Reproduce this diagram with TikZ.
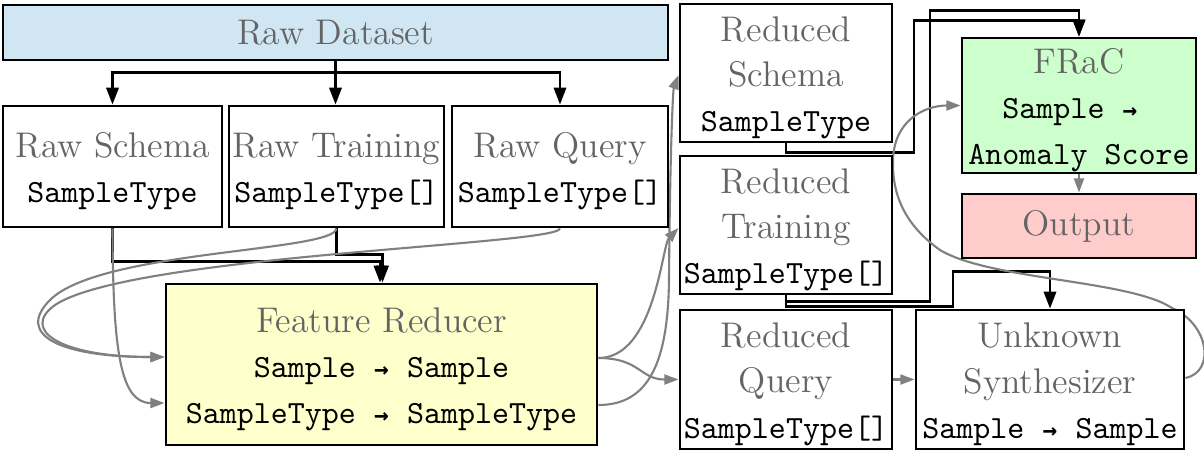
\documentclass[tikz,border=0pt]{standalone}
\usepackage{fontspec}
\usepackage{tikz}
\usetikzlibrary{arrows.meta,calc,backgrounds}

\newfontfamily\arrfont{DejaVu Sans Mono}

\definecolor{ttlgray}{HTML}{646464}
\definecolor{lnkgray}{HTML}{808080}
\definecolor{dsblue}{HTML}{D0E6F3}
\definecolor{redyellow}{HTML}{FFFFCC}
\definecolor{fracgreen}{HTML}{CCFFCC}
\definecolor{outpink}{HTML}{FFCCCC}

\newcommand{\ttl}[1]{{\rmfamily\color{ttlgray}\fontsize{11}{14}\selectfont #1}}
\newcommand{\tup}{\rule{0pt}{10.6pt}}
\newcommand{\tto}{\makebox[5.25pt]{\arrfont\bfseries\fontsize{7.5}{8}\selectfont →}}

\begin{document}
\begin{tikzpicture}[x=0.3087pt, y=-0.3087pt,
    box/.style={draw, line width=0.9pt, fill=white, align=center, inner sep=0pt,
        font=\fontsize{10}{14}\selectfont\ttfamily},
    wh/.style 2 args={minimum width=#1*0.3087pt, minimum height=#2*0.3087pt},
    tree/.style={line width=0.7pt, -{Triangle[length=5.2pt,width=3.8pt]}},
    flow/.style={line width=0.65pt, lnkgray, -{Triangle[length=4.4pt,width=3.1pt]}}]
    \useasboundingbox (0,0) rectangle (1204,454);

    \node[box, fill=dsblue, wh={665}{55}] (raw) at (335.5,32.5) {\ttl{Raw Dataset}};
    \node[box, wh={219}{121}] (rs) at (112.5,166.5) {\tup\ttl{Raw Schema}\\SampleType};
    \node[box, wh={215}{121}] (rt) at (336.5,166.5) {\tup\ttl{Raw Training}\\SampleType[]};
    \node[box, wh={216}{121}] (rq) at (560,166.5) {\tup\ttl{Raw Query}\\SampleType[]};
    \node[box, fill=redyellow, wh={431}{161}] (fr) at (381.5,364.5)
        {\tup\ttl{Feature Reducer}\\Sample \tto{} Sample\\SampleType \tto{} SampleType};

    \node[box, wh={212}{138}] (dS) at (786,73) {\tup\ttl{Reduced}\\\ttl{Schema}\\SampleType};
    \node[box, wh={212}{138}] (dT) at (786,225) {\tup\ttl{Reduced}\\\ttl{Training}\\SampleType[]};
    \node[box, wh={212}{139}] (dQ) at (786,379.5) {\tup\ttl{Reduced}\\\ttl{Query}\\SampleType[]};

    \node[box, fill=fracgreen, wh={234}{135}] (frac) at (1079,105.5)
        {\tup\ttl{FRaC}\\Sample \tto\phantom{x}\\Anomaly Score};
    \node[box, fill=outpink, wh={234}{64}] (out) at (1079,226) {\ttl{Output}};
    \node[box, wh={268}{139}] (syn) at (1050,379.5)
        {\tup\ttl{Unknown}\\\ttl{Synthesizer}\\Sample \tto{} Sample};

    % ports
    \coordinate (frinA) at ($(fr.west)+(0,-7.5)$);
    \coordinate (frinB) at ($(fr.west)+(0,38.5)$);
    \coordinate (froutA) at ($(fr.east)+(0,-6.5)$);
    \coordinate (froutB) at ($(fr.east)+(0,40.5)$);
    \coordinate (dSin) at ($(dS.west)+(0,2)$);
    \coordinate (dTin) at ($(dT.west)+(0,3)$);
    \coordinate (synout) at ($(syn.east)+(0,-1.5)$);

    \begin{scope}[on background layer]
    \fill[white] (0,0) rectangle (1204,454);

    % raw dataset split
    \draw[tree] (raw.south) -- (raw.south |- rt.north);
    \draw[tree] (raw.south) -- ++(0,11) -| (rs.north);
    \draw[tree] (raw.south) -- ++(0,11) -| (rq.north);

    % into the feature reducer
    \draw[tree] (rs.south) -- ++(0,33) -| ($(fr.north)+(-1.5,0)$);
    \draw[tree] (rt.south) -- ++(0,26) -| ($(fr.north)+(1,0)$);
    \draw[flow] (rs.south) .. controls (113,350) and (120,403) .. (frinB);
    \draw[flow] (rt.south) .. controls (334,252) and (100,250) .. (50,300)
        .. controls (15,335) and (60,357) .. (frinA);
    \draw[flow] (rq.south) .. controls (558,245) and (130,255) .. (55,305)
        .. controls (20,330) and (60,357) .. (frinA);

    % out of the feature reducer
    \draw[flow] (froutA) .. controls (640,358) and (640,379.5) .. (dQ.west);
    \draw[flow] (froutA) .. controls (655,358) and (662,245) .. (dTin);
    \draw[flow] (froutB) .. controls (650,405) and (668,360) .. (669,280)
        .. controls (670,150) and (673,90) .. (dSin);

    % reduced data
    \draw[tree] (dS.south) -- ++(0,9) -- ++(128,0) |- ($(frac.north)+(0,-16)$) -- (frac.north);
    \draw[tree] (dT.south) -- ++(0,6) -- ++(144,0) |- ($(frac.north)+(0,-26)$) -- (frac.north);
    \draw[tree] (dT.south) -- ++(0,11) -- ++(167,0) |- ($(syn.north)+(0,-37)$) -- (syn.north);
    \draw[flow] (dQ.east) -- (syn.west);

    % synthesized samples
    \draw[flow] (synout) .. controls (1215,372) and (1210,325) .. (1172,308)
        .. controls (1130,280) and (990,280) .. (940,250)
        .. controls (905,225) and (892,195) .. (893,160)
        .. controls (894,120) and (925,105.5) .. (frac.west);
    \draw[flow] (frac.south) -- (out.north);
    \end{scope}
\end{tikzpicture}
\end{document}
